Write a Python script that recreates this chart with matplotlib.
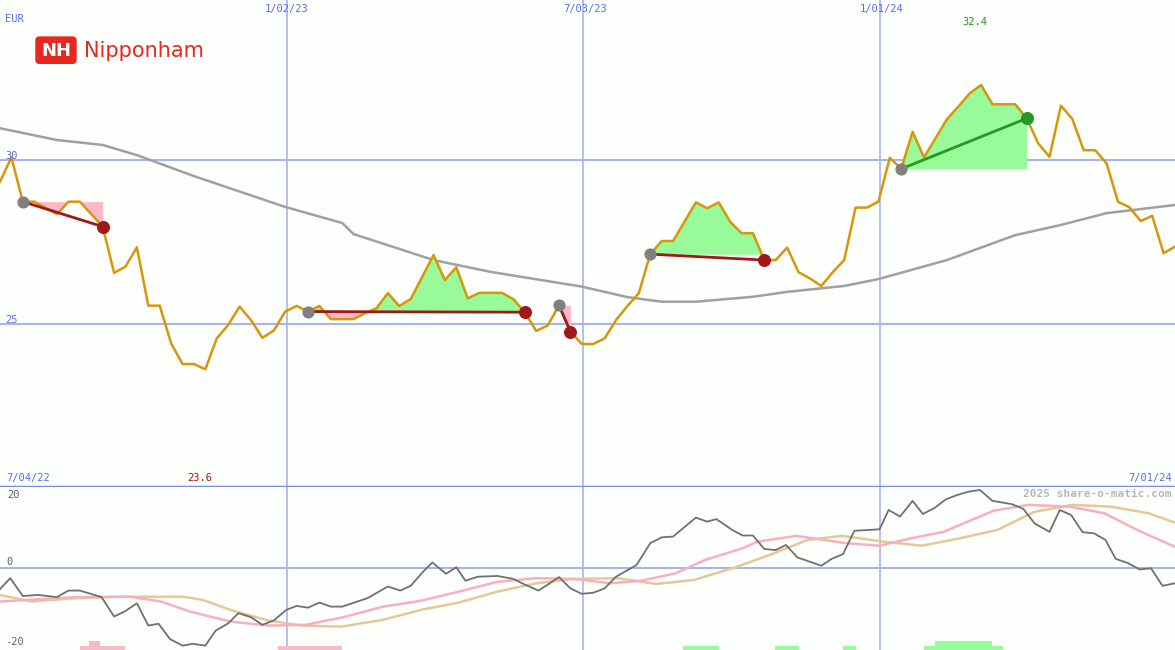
import numpy as np
import matplotlib.pyplot as plt
from matplotlib.patches import FancyBboxPatch

# weekly closes, 7/04/22 .. 7/01/24
price = [29.34, 30.08, 28.73, 28.73, 28.54, 28.35, 28.73, 28.73, 28.35, 27.97,
         26.56, 26.75, 27.34, 25.56, 25.56, 24.41, 23.78, 23.78, 23.62, 24.56,
         24.97, 25.53, 25.12, 24.58, 24.80, 25.38, 25.55, 25.38, 25.55, 25.15,
         25.15, 25.15, 25.33, 25.48, 25.94, 25.55, 25.76, 26.43, 27.10, 26.34,
         26.73, 25.78, 25.95, 25.95, 25.95, 25.76, 25.36, 24.79, 24.95, 25.57,
         24.77, 24.39, 24.39, 24.56, 25.12, 25.55, 25.94, 27.13, 27.53, 27.53,
         28.12, 28.71, 28.53, 28.71, 28.12, 27.77, 27.77, 26.95, 26.95, 27.33,
         26.58, 26.39, 26.16, 26.58, 26.95, 28.55, 28.55, 28.73, 30.07, 29.73,
         30.86, 30.08, 30.66, 31.24, 31.63, 32.03, 32.29, 31.70, 31.70, 31.70,
         31.27, 30.51, 30.10, 31.66, 31.25, 30.30, 30.30, 29.90, 28.73, 28.56,
         28.14, 28.30, 27.16, 27.36]

ma_weeks = [0, 5, 9, 12, 17, 25, 30, 31, 35, 38, 43, 51, 55, 58, 61, 66, 69, 74, 77, 83, 89, 93, 97, 103]
ma_vals = [30.97, 30.61, 30.46, 30.15, 29.51, 28.57, 28.08, 27.74, 27.29, 26.95, 26.59, 26.14,
           25.82, 25.68, 25.68, 25.83, 25.98, 26.16, 26.37, 26.95, 27.71, 28.02, 28.38, 28.63]

# trades: (entry week, exit week)
trades = [(2, 9), (27, 46), (49, 50), (57, 67), (79, 90)]

osc_weeks = [0, 0.9, 2, 3.3, 5, 6, 7, 8.9, 10, 10.9, 12, 13, 13.9, 14.9, 16, 16.9, 18, 18.9, 20, 20.9,
             22, 23, 24, 25.1, 26, 27, 28, 29, 30, 32.2, 34, 35.1, 36, 37.1, 37.9, 39.1, 40, 40.8, 41.9,
             43.6, 45, 45.9, 47.2, 48.1, 49, 50, 51, 52, 53, 54, 55.8, 57, 58, 59, 61, 62, 62.8, 64.2,
             65.1, 66, 67, 68, 68.9, 69.9, 72, 72.9, 73.9, 74.9, 77.1, 77.9, 78.9, 80, 80.9, 81.9, 82.9,
             83.9, 84.9, 85.9, 87, 88.7, 89.7, 90.7, 92, 92.9, 93.9, 94.9, 95.9, 96.9, 97.8, 98.9, 99.9,
             100.9, 101.9, 103]
osc_vals = [-5.8, -2.8, -7.7, -7.4, -8.0, -6.2, -6.2, -8.0, -13.3, -12.0, -9.7, -15.8, -15.3, -19.5,
            -21.3, -20.8, -21.3, -17.2, -15.2, -12.4, -13.5, -15.6, -14.4, -11.5, -10.4, -10.9, -9.5,
            -10.6, -10.6, -8.3, -5.1, -6.2, -4.9, -1.0, 1.5, -1.6, 0.2, -3.5, -2.4, -2.2, -3.0, -4.4,
            -6.2, -4.4, -2.5, -5.6, -7.1, -6.8, -5.6, -2.4, 0.8, 6.8, 8.4, 8.6, 13.8, 12.7, 13.4, 10.4,
            8.9, 8.9, 5.2, 4.9, 6.3, 2.9, 0.6, 2.5, 3.8, 10.2, 10.6, 15.9, 14.1, 18.4, 14.8, 16.4, 18.8,
            20.0, 20.9, 21.4, 18.4, 17.5, 16.2, 12.2, 9.9, 15.9, 14.5, 9.8, 9.5, 7.7, 2.5, 1.3, -0.4,
            -0.1, -4.9, -4.2]

pink_weeks = [0, 3.3, 6.7, 11.4, 14.1, 16.7, 20.2, 23.5, 26.8, 30.1, 33.6, 36.9, 40.2, 43.6, 47, 50.3,
              53.5, 56.2, 59.2, 61.8, 65.1, 66.4, 69.8, 74.1, 77.1, 79.8, 82.7, 87.1, 90.1, 93.8,
              96.8, 99.7, 103]
pink_vals = [-9.2, -8.6, -8.0, -7.9, -9.2, -12.0, -14.7, -15.8, -15.6, -13.5, -10.6, -9.0, -6.5, -3.8,
             -2.8, -3.0, -4.2, -3.5, -1.5, 2.2, 5.4, 7.2, 8.8, 6.8, 6.1, 8.1, 9.9, 15.7,
             17.3, 16.8, 15.0, 10.4, 5.8]

tan_weeks = [0, 2.7, 6.7, 10.1, 16.1, 17.8, 20.2, 23.5, 26.5, 29.9, 33.6, 36.9, 40.2, 43.6, 47, 50.3,
             54.2, 57.5, 60.8, 64.2, 67.5, 70.8, 73.8, 77.5, 80.8, 84.1, 87.4, 90.7, 94,
             97.4, 100.7, 103]
tan_vals = [-7.4, -9.2, -8.3, -7.9, -7.9, -8.8, -11.5, -14.4, -15.8, -16.1, -14.2, -11.5, -9.5, -6.5,
            -4.2, -3.0, -2.8, -4.4, -3.3, -0.1, 3.6, 7.7, 8.8, 7.2, 6.1, 8.1, 10.4, 15.4,
            17.3, 16.8, 15.0, 12.4]

# signal histogram at the bottom: (start week, end week, level, colour)
sig_bars = [(7.0, 11.0, 1, 'pink'), (7.8, 8.8, 2, 'pink'), (24.4, 30.0, 1, 'pink'),
            (59.9, 63.0, 1, 'green'), (67.9, 70.0, 1, 'green'), (73.9, 75.0, 1, 'green'),
            (81.0, 87.9, 1, 'green'), (82.0, 87.0, 2, 'green')]

BG = '#fcfffc'
GRID = '#a8b4f0'
BLUE = '#5a6ee8'
GREEN_F = '#98fa98'
PINK_F = '#fab8c8'
ORANGE = '#d8960a'
MONO = 'DejaVu Sans Mono'

weeks = np.arange(len(price))
px = 103 / 1175.0  # weeks per pixel

fig = plt.figure(figsize=(11.75, 6.5), dpi=100, facecolor=BG)
ax = fig.add_axes([0, 163 / 650, 1, 487 / 650])
ax2 = fig.add_axes([0, 0, 1, 163 / 650])
for a in (ax, ax2):
    a.set_facecolor(BG)
    a.set_xlim(0, 103)
    a.axis('off')

ax.set_ylim(20.03, 34.88)
for w in (25.2, 51.1, 77.1):
    ax.axvline(w, color=GRID, lw=1.2, zorder=1)
    ax2.axvline(w, color=GRID, lw=1.2, zorder=1)
for lvl in (25, 30):
    ax.axhline(lvl, color=GRID, lw=1.5, zorder=1)

ax.plot(ma_weeks, ma_vals, color='#a0a0a0', lw=1.8, zorder=2)

p = np.array(price)
for e, x in trades:
    xs = weeks[e:x + 1]
    lvl = p[e]
    ax.fill_between(xs, p[e:x + 1], lvl, where=p[e:x + 1] >= lvl, color=GREEN_F, interpolate=True, lw=0, zorder=2)
    ax.fill_between(xs, p[e:x + 1], lvl, where=p[e:x + 1] <= lvl, color=PINK_F, interpolate=True, lw=0, zorder=2)

ax.plot(weeks, price, color=ORANGE, lw=1.8, zorder=3)

for e, x in trades:
    win = p[x] > p[e]
    c = '#229922' if win else '#a01818'
    ax.plot([e, x], [p[e], p[x]], color=c, lw=2, zorder=4)
    ax.scatter([e], [p[e]], s=60, color='#808080', zorder=5)
    ax.scatter([x], [p[x]], s=70, color=c, zorder=5)

ax.axhline(20.03, color='#7b8ce8', lw=2.5, zorder=6)

fs = 7.5
ax.text(0.004, 0.962, 'EUR', transform=ax.transAxes, fontsize=fs, color=BLUE, family=MONO, va='center')
for xp, lab in ((287, '1/02/23'), (585, '7/03/23'), (882, '1/01/24')):
    ax.text(xp * px, 34.6, lab, fontsize=fs, color=BLUE, family=MONO, ha='center', va='center')
ax.text(975 * px, 34.2, '32.4', fontsize=fs, color='#229922', family=MONO, ha='center', va='center')
ax.text(5 * px, 30.12, '30', fontsize=fs, color=BLUE, family=MONO, va='center')
ax.text(5 * px, 25.12, '25', fontsize=fs, color=BLUE, family=MONO, va='center')
ax.text(28 * px, 20.3, '7/04/22', fontsize=fs, color=BLUE, family=MONO, ha='center', va='center')
ax.text(200 * px, 20.3, '23.6', fontsize=fs, color='#a01818', family=MONO, ha='center', va='center')
ax.text(1172 * px, 20.3, '7/01/24', fontsize=fs, color=BLUE, family=MONO, ha='right', va='center')

# logo
ax.add_patch(FancyBboxPatch((36 * px, 32.95), 40 * px, 0.8, boxstyle='round,pad=0.0,rounding_size=0.3',
                            color='#e8281e', zorder=7, mutation_aspect=0.3))
ax.text(56 * px, 33.33, 'NH', fontsize=13, color='white', weight='bold', ha='center', va='center', zorder=8)
ax.text(84 * px, 33.33, 'Nipponham', fontsize=15, color='#e8281e', ha='left', va='center', zorder=8)

# oscillator panel
ax2.set_ylim(-22.5, 22.2)
ax2.axhline(0, color=GRID, lw=1.5, zorder=1)
for s, e, lvl, c in sig_bars:
    ax2.bar((s + e) / 2, 1.2 * lvl, width=e - s, bottom=-22.5, color=GREEN_F if c == 'green' else PINK_F, zorder=2)
ax2.plot(tan_weeks, tan_vals, color='#e6c898', lw=1.8, zorder=3)
ax2.plot(pink_weeks, pink_vals, color='#f8b0c0', lw=1.8, zorder=3)
ax2.plot(osc_weeks, osc_vals, color='#707070', lw=1.3, zorder=4)
ax2.text(7 * px, 20, '20', fontsize=fs, color='#606060', family=MONO, va='center')
ax2.text(6 * px, 1.5, '0', fontsize=fs, color='#606060', family=MONO, va='center')
ax2.text(5 * px, -20.2, '-20', fontsize=fs, color='#606060', family=MONO, va='center')
ax2.text(1172 * px, 20.2, '2025 share-o-matic.com', fontsize=8, color='#b8b8b8', family=MONO,
         weight='bold', ha='right', va='center')

fig.savefig('out.png', dpi=100, facecolor=BG)
